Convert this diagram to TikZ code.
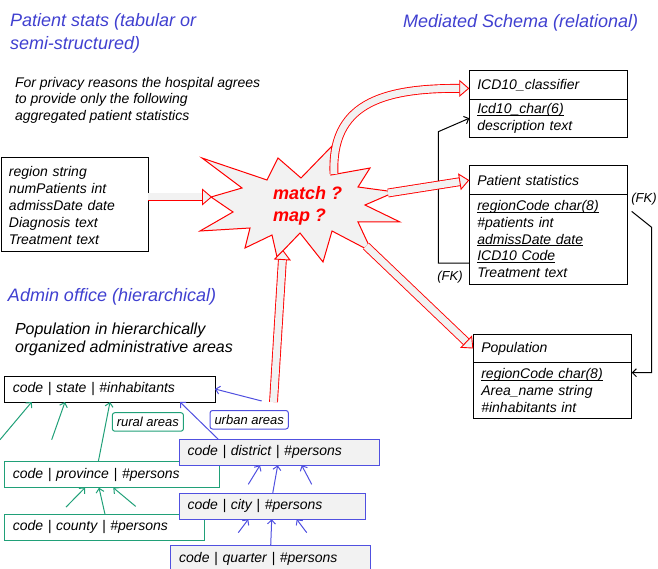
\documentclass[tikz,border=0pt]{standalone}
\usepackage{fontspec}
\setmainfont{Liberation Sans}
\usetikzlibrary{positioning,calc,arrows.meta}
\definecolor{titleblue}{RGB}{64,64,208}
\definecolor{areablue}{RGB}{80,80,224}
\definecolor{areagreen}{RGB}{32,160,120}
\definecolor{lightfill}{RGB}{242,242,242}
\newcommand\setfs[2]{\fontsize{#1}{#2}\selectfont}
\newcommand\keyfld[1]{\leavevmode\setbox0\hbox{#1}\rlap{\rule[-1.8pt]{\wd0}{0.7pt}}\box0}

\begin{document}
\begin{tikzpicture}[x=1pt, y=-1pt,
  every node/.style={inner sep=0pt, outer sep=0pt},
  >={Straight Barb[length=4pt, width=8pt]},
  heading/.style={anchor=north west, align=left, text=titleblue, font=\itshape\setfs{18}{23}},
  remark/.style={anchor=north west, align=left, font=\itshape\setfs{14}{16.4}},
  srcbox/.style={draw, line width=1pt, anchor=north west, text width=131pt, inner xsep=8pt, minimum height=94pt, align=left, font=\itshape\setfs{14}{17}},
  tblhead/.style={draw, line width=1pt, anchor=north west, text width=142.4pt, inner xsep=8pt, minimum height=28.4pt, align=left, font=\itshape\setfs{14}{16.7}},
  tblbody/.style={tblhead},
  tier/.style={draw, line width=1pt, anchor=north west, text width=#1, inner xsep=8.5pt, minimum height=26pt, align=left, font=\itshape\setfs{14}{16}},
  rural/.style={tier=#1, draw=areagreen, fill=white},
  urban/.style={tier=#1, draw=areablue, fill=lightfill},
  areatag/.style={draw, line width=1pt, rounded corners=2.5pt, anchor=north west, inner xsep=4.5pt, minimum height=18.5pt, font=\itshape\setfs{13}{15}},
  ruralarrow/.style={->, line width=1pt, areagreen},
  urbanarrow/.style={->, line width=1pt, areablue},
  fk/.style={->, line width=1pt},
  fklabel/.style={font=\itshape\setfs{13}{15}},
  blockarrow/.style={draw=red, line width=0.9pt, double=lightfill, double distance=7pt,
    -{Triangle[length=10pt, width=17pt, fill=lightfill, color=red, line width=0.9pt]}}
]
\useasboundingbox (0,0) rectangle (658,569);

\node[heading] (srcTitle) at (10,13.5) {Patient stats (tabular or\\semi-structured)};
\node[heading] (medTitle) at (403,14) {Mediated Schema (relational)};
\node[remark] (privacy) at (15,77.3) {For privacy reasons the hospital agrees\\to provide only the following\\aggregated patient statistics};
\node[srcbox] (leftBox) at (1,158) {region string\\numPatients int\\admissDate date\\Diagnosis text\\Treatment text};

\node[tblhead] (icdHead) at (469.3,70.7) {ICD10\_classifier};
\node[tblbody, below=0pt of icdHead, minimum height=38.3pt] (icdBody) {\keyfld{Icd10\_char(6)}\\description text};
\node[tblhead] (psHead) at (469.3,166) {Patient statistics};
\node[tblbody, below=0pt of psHead, minimum height=89.7pt] (psBody) {\keyfld{regionCode char(8)}\\\#patients int\\\keyfld{admissDate date}\\\keyfld{ICD10 Code}\\Treatment text};
\node[tblhead] (popHead) at (473.3,334.3) {Population};
\node[tblbody, below=0pt of popHead, minimum height=55.6pt] (popBody) {\keyfld{regionCode char(8)}\\Area\_name string\\\#inhabitants int};

\coordinate (fkLeft) at (438.3,131.7);
\draw[fk] (psBody.south west) ++(0,-21) -| (fkLeft) -- (icdBody.west);
\draw[fk] (psBody.north east) ++(4,17) -- ++(20,16) |- ($(popBody.north east)+(0,10)$);
\node[fklabel] (fkL) at (450,277) {(FK)};
\node[fklabel] (fkR) at (644,199) {(FK)};

\node[heading] (admTitle) at (8,288.5) {Admin office (hierarchical)};
\node[remark, font=\itshape\setfs{16}{18.5}] (population) at (15,322.5) {Population in hierarchically\\organized administrative areas};

\node[tier=193.7pt] (state) at (4.3,376) {code | state | \#inhabitants};
\node[rural=198pt] (province) at (4.3,461.7) {code | province | \#persons};
\node[rural=183pt] (county) at (4.3,514.3) {code | county | \#persons};
\node[urban=183.3pt] (district) at (179,439.3) {code | district | \#persons};
\node[urban=169.7pt] (city) at (179,493.3) {code | city | \#persons};
\node[urban=182.3pt] (quarter) at (170.7,545.7) {code | quarter | \#persons};
\node[areatag, draw=areagreen] (ruralTag) at (112.3,412.7) {rural areas};
\node[areatag, draw=areablue] (urbanTag) at (210,410.5) {urban areas};

\foreach \tx/\dx/\dy in {31.7/-31.7/37.7, 65/-13.3/37.7}
  \draw[ruralarrow, <-] (state.south -| \tx,0) -- ++(\dx,\dy);
\draw[ruralarrow] (province.north -| 98.3,0) -- (state.south -| 110,0);
\foreach \tx/\dx/\dy in {85/-19/19.4, 113.3/22.4/18.7}
  \draw[ruralarrow, <-] (province.south -| \tx,0) -- ++(\dx,\dy);
\draw[ruralarrow] (county.north -| 105,0) -- (province.south -| 99,0);

\draw[urbanarrow, <-] (state.east) -- ++(46.7,12);
\draw[urbanarrow] (district.north -| 218.3,0) -- (state.south -| 180,0);
\foreach \tx/\dx/\dy in {260/-11.7/19, 301.7/10/19}
  \draw[urbanarrow, <-] (district.south -| \tx,0) -- ++(\dx,\dy);
\draw[urbanarrow] (city.north -| 272.7,0) -- (district.south -| 277.7,0);
\foreach \tx/\dx/\dy in {248.3/-10/13.3, 296.7/10/13.3}
  \draw[urbanarrow, <-] (city.south -| \tx,0) -- ++(\dx,\dy);
\draw[urbanarrow] (quarter.north -| 270.7,0) -- (city.south -| 271.7,0);

\draw[red, line width=1pt, fill=lightfill]
  (202,158) -- (267,180) -- (278,158) -- (301,178) -- (332,146) -- (331,175)
  -- (370,168) -- (358,187) -- (395,192) -- (365,205) -- (400,222) -- (358,222)
  -- (372,252) -- (332,231) -- (323,262) -- (300,233) -- (277,257) -- (272,235)
  -- (245,248) -- (250,228) -- (200,231) -- (233,212) -- (211,197) -- (242,188) -- cycle;
\coordinate (starL) at (212,197);
\coordinate (starB) at (283,250);
\coordinate (starT) at (334,174);
\coordinate (starR) at (388,193);
\coordinate (starBR) at (366,246);
\coordinate (upTail) at (273.5,402);

\draw[blockarrow] (leftBox.east |- starL) -- (starL);
\draw[blockarrow] (upTail) -- (starB);
\draw[blockarrow] (starR) -- (psHead.west);
\draw[blockarrow] (starBR) -- (popHead.west);
\draw[blockarrow] (starT) .. controls (331,105) and (380,88) .. ($(icdHead.west)+(0,3.5)$);

\node[anchor=north west, align=left, text=red, font=\bfseries\itshape\setfs{18}{22.7}] (matchTxt) at (273,186) {match ?\\map ?};
\end{tikzpicture}
\end{document}
